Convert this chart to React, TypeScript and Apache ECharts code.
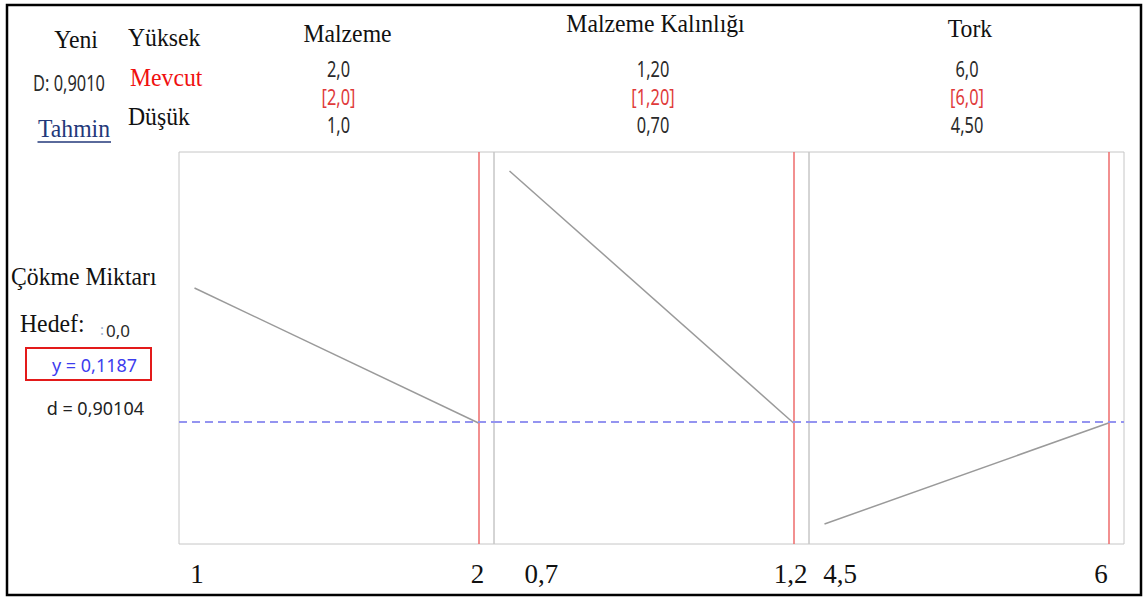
import React, { useEffect, useRef } from "react";
import * as echarts from "echarts";

// ---- data ----
const factorNames = ["Malzeme", "Malzeme Kalınlığı", "Tork"];
const highLabels = ["2,0", "1,20", "6,0"];
const currentLabels = ["[2,0]", "[1,20]", "[6,0]"];
const lowLabels = ["1,0", "0,70", "4,50"];
const factorLow = [1, 0.7, 4.5];
const factorHigh = [2, 1.2, 6];
const factorCurrent = [2, 1.2, 6];
const malzemeResponse = [0.2267, 0.1187];
const kalinlikResponse = [0.3203, 0.1187];
const torkResponse = [0.0379, 0.1187];
const tickLabels = [
  ["1", "2"],
  ["0,7", "1,2"],
  ["4,5", "6"],
];
const predictedY = 0.1187;
const responseName = "Çökme Miktarı";
const compositeD = "D: 0,9010";
const targetText = "0,0";
const yText = "y = 0,1187";
const dText = "d = 0,90104";
const yMinValue = 0.0219;
const yMaxValue = 0.3355;

const responses = [malzemeResponse, kalinlikResponse, torkResponse];

// ---- layout ----
const gridLefts = [179, 494, 809];
const gridWidth = 315;
const gridTop = 152;
const gridHeight = 392;
const padFrac = 0.0546;
const titleX = [347.5, 655.5, 970];
const titleY = [33, 23, 28];
const numX = [338.5, 653, 967];
const tickX = [
  [197, 477.5],
  [541.3, 790.7],
  [840, 1101],
];

const SERIF = '"Liberation Serif", "Times New Roman", serif';
const SANS = '"Noto Sans", "Open Sans", sans-serif';

function txt(
  text: string,
  x: number,
  y: number,
  opts: { size?: number; family?: string; fill?: string; align?: string; scaleX?: number } = {}
) {
  const align = opts.align || "center";
  const isSerif = !opts.family || opts.family === SERIF;
  return {
    type: "text",
    x,
    y,
    scaleX: opts.scaleX || (isSerif ? 0.93 : 1),
    z: 100,
    style: {
      text,
      fill: opts.fill || "#111",
      fontSize: opts.size || 25.5,
      fontFamily: opts.family || SERIF,
      align,
      textAlign: align,
      verticalAlign: "middle",
      textVerticalAlign: "middle",
    },
  };
}

export default function App() {
  const ref = useRef<HTMLDivElement>(null);

  useEffect(() => {
    if (!ref.current) return;
    const chart = echarts.init(ref.current, undefined, { renderer: "svg" });

    const grids = gridLefts.map((l) => ({
      left: l,
      top: gridTop,
      width: gridWidth,
      height: gridHeight,
      show: true,
      borderColor: "#c6c6c6",
      borderWidth: 1,
      backgroundColor: "transparent",
    }));

    const xAxes = factorLow.map((lo, i) => {
      const span = factorHigh[i] - lo;
      return {
        type: "value",
        gridIndex: i,
        min: lo - span * padFrac,
        max: factorHigh[i] + span * padFrac,
        show: false,
      };
    });

    const yAxes = factorLow.map((_, i) => ({
      type: "value",
      gridIndex: i,
      min: yMinValue,
      max: yMaxValue,
      show: false,
    }));

    const series = responses.map((resp, i) => ({
      type: "line",
      xAxisIndex: i,
      yAxisIndex: i,
      data: [
        [factorLow[i], resp[0]],
        [factorHigh[i], resp[1]],
      ],
      showSymbol: false,
      symbol: "none",
      lineStyle: { color: "#9a9a9a", width: 1.5 },
      markLine: {
        silent: true,
        symbol: "none",
        label: { show: false },
        data: [
          {
            xAxis: factorCurrent[i],
            lineStyle: { color: "#ee6b6b", width: 1.5, type: "solid" },
          },
          {
            yAxis: predictedY,
            lineStyle: { color: "#9494f0", width: 2, type: [8, 5] },
          },
        ],
      },
    }));

    const numStyle = { size: 21, family: SANS, scaleX: 0.78, fill: "#2a2a2a" };
    const graphics: any[] = [
      {
        type: "rect",
        shape: { x: 7, y: 5, width: 1134, height: 590 },
        style: { fill: "none", stroke: "#000", lineWidth: 2.5 },
      },
      txt("Yeni", 76, 39),
      txt("Yüksek", 128, 37.5, { align: "left" }),
      txt(compositeD, 69, 83, { ...numStyle }),
      txt("Mevcut", 130, 77.5, { align: "left", fill: "#f01010" }),
      txt("Düşük", 128, 116, { align: "left" }),
      txt("Tahmin", 74, 128, { fill: "#23387a" }),
      {
        type: "line",
        shape: { x1: 37.5, y1: 142, x2: 111, y2: 142 },
        style: { stroke: "#23387a", lineWidth: 1.5 },
      },
      txt(responseName, 11, 276, { align: "left" }),
      txt("Hedef:", 20, 323, { align: "left" }),
      txt(":", 100, 329, { family: SANS, size: 15, fill: "#9ab0d0", align: "left" }),
      txt(targetText, 106, 330, { family: SANS, size: 17, fill: "#2a2a2a", align: "left" }),
      {
        type: "rect",
        shape: { x: 26, y: 348, width: 125, height: 32 },
        style: { fill: "none", stroke: "#e31a1a", lineWidth: 2 },
      },
      txt(yText, 94.5, 365, { family: SANS, size: 18, fill: "#3d3dee" }),
      txt(dText, 95.3, 408, { family: SANS, size: 18, fill: "#222" }),
    ];

    factorNames.forEach((name, i) => {
      graphics.push(txt(name, titleX[i], titleY[i]));
      graphics.push(txt(highLabels[i], numX[i], 69, { ...numStyle }));
      graphics.push(txt(currentLabels[i], numX[i], 97.5, { ...numStyle, fill: "#e03a3a" }));
      graphics.push(txt(lowLabels[i], numX[i], 125.5, { ...numStyle }));
      tickLabels[i].forEach((t, j) => {
        graphics.push(txt(t, tickX[i][j], 574, { size: 27, scaleX: 1 }));
      });
    });

    chart.setOption({
      animation: false,
      backgroundColor: "#ffffff",
      grid: grids,
      xAxis: xAxes,
      yAxis: yAxes,
      series,
      graphic: { elements: graphics },
    });

    return () => chart.dispose();
  }, []);

  return (
    <div
      ref={ref}
      style={{ position: "absolute", left: 0, top: 0, width: 1144, height: 599 }}
    />
  );
}
